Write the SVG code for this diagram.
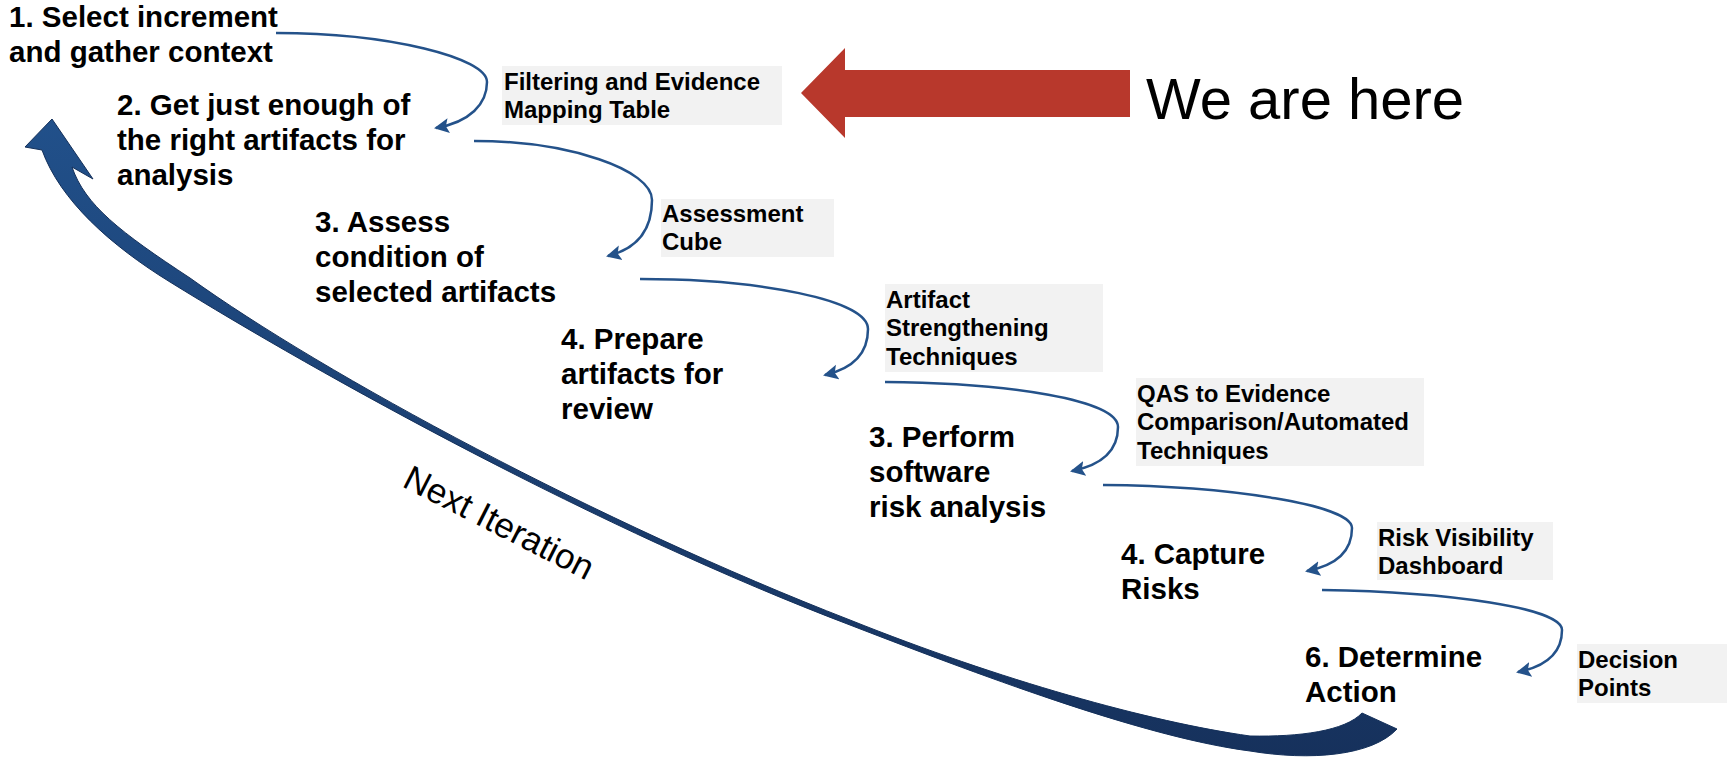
<svg xmlns="http://www.w3.org/2000/svg" width="1729" height="757" viewBox="0 0 1729 757">
<style>
.step{font-family:"Liberation Sans",Arial,sans-serif;font-weight:bold;font-size:29.5px;fill:#000}
.note{font-family:"Liberation Sans",Arial,sans-serif;font-weight:bold;font-size:24px;fill:#000}
.box{fill:#F2F2F2}
.conn{fill:none;stroke:#24528A;stroke-width:2.5}
.big{font-family:"Liberation Sans",Arial,sans-serif;font-size:58px;fill:#000}
.iter{font-family:"Liberation Sans",Arial,sans-serif;font-size:35px;fill:#000}
</style>
<defs>
<marker id="ah" viewBox="0 0 16 16" refX="13" refY="8" markerWidth="16" markerHeight="16" markerUnits="userSpaceOnUse" orient="auto">
<path d="M0,0.5 L15,8 L0,15.5 L3,8 z" fill="#24528A"/>
</marker>
<linearGradient id="navy" gradientUnits="userSpaceOnUse" x1="0" y1="120" x2="0" y2="757">
<stop offset="0" stop-color="#21508A"/>
<stop offset="1" stop-color="#16315C"/>
</linearGradient>
</defs>
<rect width="1729" height="757" fill="#fff"/>

<g id="connectors">
<path class="conn" marker-end="url(#ah)" d="M276,33 C390,33 487,58 487,82 C487,104 470,122 436,128"/>
<path class="conn" marker-end="url(#ah)" d="M474,141 C570,141 652,170 652,200 C652,228 640,248 608,256"/>
<path class="conn" marker-end="url(#ah)" d="M640,279 C760,279 868,300 868,329 C868,352 855,368 825,375"/>
<path class="conn" marker-end="url(#ah)" d="M885,382 C1010,383 1118,400 1118,427 C1118,450 1102,465 1072,471"/>
<path class="conn" marker-end="url(#ah)" d="M1103,485 C1230,486 1352,505 1352,528 C1352,550 1338,565 1307,571"/>
<path class="conn" marker-end="url(#ah)" d="M1322,590 C1450,592 1562,608 1562,630 C1562,652 1548,666 1518,672"/>
<path id="next-iteration-arrow" fill="url(#navy)" stroke="#14305A" stroke-width="1" d="M42,150 C60,200 110,245 170,282 C320,375 600,530 850,625 C1000,683 1150,738 1250,751 C1310,761 1372,756 1397,729 L1362,713 C1345,731 1300,737 1250,736 C1150,722 1000,680 850,620 C600,523 325,375 190,278 C120,232 85,205 72,167 L93,179 L52,119 L25,147 Z"/>
<path id="here-arrow" fill="#B8382C" d="M801,93 L845,48 L845,70 L1130,70 L1130,117 L845,117 L845,138 Z"/>
</g>

<g id="step1"><text class="step" x="9" y="27">1. Select increment</text><text class="step" x="9" y="62">and gather context</text></g>
<g id="step2"><text class="step" x="117" y="115">2. Get just enough of</text><text class="step" x="117" y="150">the right artifacts for</text><text class="step" x="117" y="185">analysis</text></g>
<g id="step3"><text class="step" x="315" y="232">3. Assess</text><text class="step" x="315" y="267">condition of</text><text class="step" x="315" y="302">selected artifacts</text></g>
<g id="step4"><text class="step" x="561" y="349">4. Prepare</text><text class="step" x="561" y="384">artifacts for</text><text class="step" x="561" y="419">review</text></g>
<g id="step5"><text class="step" x="869" y="447">3. Perform</text><text class="step" x="869" y="482">software</text><text class="step" x="869" y="517">risk analysis</text></g>
<g id="step6"><text class="step" x="1121" y="564">4. Capture</text><text class="step" x="1121" y="599">Risks</text></g>
<g id="step7"><text class="step" x="1305" y="667">6. Determine</text><text class="step" x="1305" y="702">Action</text></g>

<g id="note1"><rect class="box" x="502" y="66" width="280" height="59"/><text class="note" x="504" y="89.5">Filtering and Evidence</text><text class="note" x="504" y="118">Mapping Table</text></g>
<g id="note2"><rect class="box" x="661" y="199" width="173" height="58"/><text class="note" x="662" y="221.5">Assessment</text><text class="note" x="662" y="250">Cube</text></g>
<g id="note3"><rect class="box" x="885" y="284" width="218" height="88"/><text class="note" x="886" y="307.5">Artifact</text><text class="note" x="886" y="336">Strengthening</text><text class="note" x="886" y="364.5">Techniques</text></g>
<g id="note4"><rect class="box" x="1136" y="378" width="288" height="88"/><text class="note" x="1137" y="401.5">QAS to Evidence</text><text class="note" x="1137" y="430">Comparison/Automated</text><text class="note" x="1137" y="458.5">Techniques</text></g>
<g id="note5"><rect class="box" x="1377" y="522" width="176" height="58"/><text class="note" x="1378" y="545.5">Risk Visibility</text><text class="note" x="1378" y="574">Dashboard</text></g>
<g id="note6"><rect class="box" x="1577" y="644" width="150" height="59"/><text class="note" x="1578" y="667.5">Decision</text><text class="note" x="1578" y="696">Points</text></g>

<g id="we-are-here"><text class="big" x="1146" y="119">We are here</text></g>
<g id="next-iteration"><text class="iter" transform="translate(401,486) rotate(27)">Next Iteration</text></g>
</svg>
